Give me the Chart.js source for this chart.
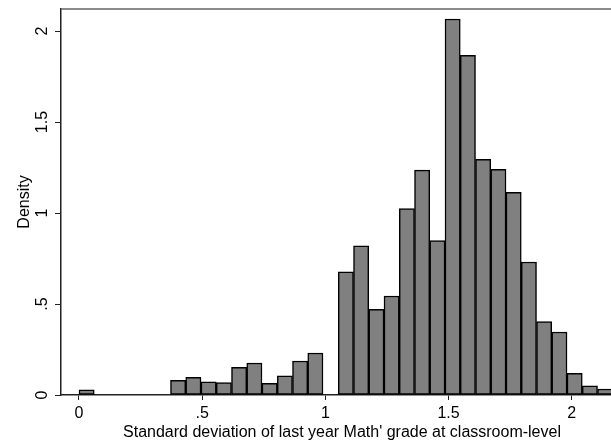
<!DOCTYPE html>
<html>
<head>
<meta charset="utf-8">
<script src="https://cdn.jsdelivr.net/npm/chart.js@4/dist/chart.umd.min.js"></script>
<style>
  html, body { margin: 0; padding: 0; background: #fff; overflow: hidden; }
  #wrap { width: 623px; height: 443px; }
</style>
</head>
<body>
<div id="wrap"><canvas id="histChart"></canvas></div>
<script>
// histogram bins: first bin starts at 0, all bins same width
const binStart = 0;
const binWidth = 0.0619;
// density per bin (null = empty bin)
const density = [
  0.029, null, null, null, null, null,
  0.081, 0.097, 0.073, 0.068, 0.152, 0.176, 0.064, 0.106, 0.187, 0.231,
  null,
  0.677, 0.820, 0.471, 0.544, 1.024, 1.236, 0.848, 2.066, 1.866,
  1.295, 1.240, 1.114, 0.731, 0.403, 0.346, 0.119, 0.051, 0.033
];
const xTicks = [0, 0.5, 1, 1.5, 2];
const xTickLabels = ['0', '.5', '1', '1.5', '2'];
const yTicks = [0, 0.5, 1, 1.5, 2];
const yTickLabels = ['0', '.5', '1', '1.5', '2'];

const points = density.map((d, i) => ({ x: binStart + (i + 0.5) * binWidth, y: d }));

const font = { family: "'Liberation Sans', Arial, sans-serif", size: 16 };

// outline on top of the plot region (Stata box)
const frame = {
  id: 'frame',
  afterDraw(chart) {
    const a = chart.chartArea, c = chart.ctx;
    c.save();
    c.strokeStyle = '#666';
    c.lineWidth = 1.5;
    c.beginPath();
    c.moveTo(a.left, a.top);
    c.lineTo(a.right, a.top);
    c.lineTo(a.right, a.bottom);
    c.stroke();
    c.restore();
  }
};

new Chart(document.getElementById('histChart'), {
  type: 'bar',
  data: {
    datasets: [{
      data: points,
      backgroundColor: '#808080',
      borderColor: '#000',
      borderWidth: 1.5,
      borderSkipped: false,
      barPercentage: 1,
      categoryPercentage: 1
    }]
  },
  options: {
    responsive: true,
    maintainAspectRatio: false,
    animation: false,
    layout: { padding: { top: 9, right: 0, left: 0, bottom: 0 } },
    plugins: { legend: { display: false }, tooltip: { enabled: false } },
    scales: {
      x: {
        type: 'linear',
        offset: false,
        min: -0.073,
        max: 2.208,
        afterBuildTicks: s => { s.ticks = xTicks.map(v => ({ value: v })); },
        afterFit: s => { s.height = 48; s.paddingLeft = 0; s.paddingRight = 0; },
        grid: { display: true, offset: false, drawOnChartArea: false, color: '#222', tickLength: 5 },
        border: { display: true, color: '#222', width: 1.5 },
        ticks: {
          color: '#000', font: font, padding: 4, maxRotation: 0, autoSkip: false,
          callback: v => xTickLabels[xTicks.indexOf(v)]
        },
        title: {
          display: true,
          text: "Standard deviation of last year Math' grade at classroom-level",
          color: '#000', font: font, padding: { top: 0, bottom: 1 }
        }
      },
      y: {
        min: 0,
        max: 2.121,
        afterBuildTicks: s => { s.ticks = yTicks.map(v => ({ value: v })); },
        afterFit: s => { s.width = 61; s.paddingTop = 0; s.paddingBottom = 0; },
        grid: { display: true, drawOnChartArea: false, color: '#222', tickLength: 6 },
        border: { display: true, color: '#222', width: 1.5 },
        ticks: {
          color: '#000', font: font, padding: 1, minRotation: 90, maxRotation: 90,
          crossAlign: 'center', autoSkip: false,
          callback: v => yTickLabels[yTicks.indexOf(v)]
        },
        title: {
          display: true, text: 'Density', color: '#000', font: font,
          padding: { top: 15, bottom: 0 }
        }
      }
    }
  },
  plugins: [frame]
});
</script>
</body>
</html>
